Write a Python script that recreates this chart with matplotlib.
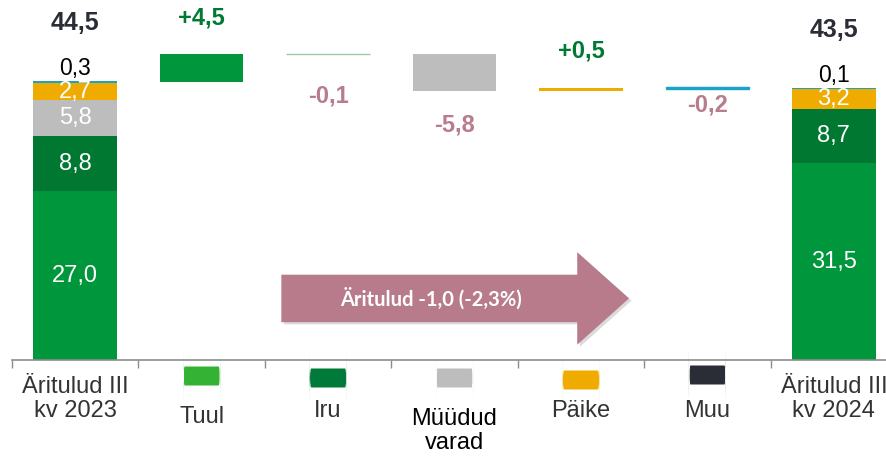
import matplotlib
matplotlib.use("Agg")
import matplotlib.pyplot as plt
import matplotlib.transforms as mtransforms
from matplotlib.patches import FancyArrow, FancyBboxPatch

plt.rcParams['font.family'] = ['Liberation Sans', 'DejaVu Sans']

# data
categories = ['Äritulud III\nkv 2023', 'Tuul', 'Iru', 'Müüdud\nvarad', 'Päike', 'Muu', 'Äritulud III\nkv 2024']
segments = ['Tuul', 'Iru', 'Müüdud varad', 'Päike', 'Muu']
start_values = [27.0, 8.8, 5.8, 2.7, 0.3]
end_values = [31.5, 8.7, 0.0, 3.2, 0.1]
changes = [4.5, -0.1, -5.8, 0.5, -0.2]
start_total = 44.5
end_total = 43.5
arrow_text = 'Äritulud -1,0 (-2,3%)'

seg_colors = ['#00963c', '#007832', '#bdbdbd', '#f0ab00', '#1aa3c8']
change_colors = ['#00963c', '#9fcca8', '#bdbdbd', '#f0ab00', '#1aa3c8']
legend_colors = ['#34b233', '#007a38', '#bdbdbd', '#f0ab00', '#2b2d36']
seg_label_colors = ['white', 'white', 'white', 'white', 'black']

fig = plt.figure(figsize=(8.87, 4.62), dpi=100)
ax = fig.add_axes([12 / 887, 102 / 462, 875 / 887, 360 / 462])
ax.set_xlim(-0.5, 6.42)
ax.set_ylim(0, 57.6)

w = 0.66

def fmt(v):
    return f'{v:.1f}'.replace('.', ',')

def fmt_sign(v):
    return ('+' if v > 0 else '-') + fmt(abs(v))

# stacked totals
for xpos, vals, total in [(0, start_values, start_total), (6, end_values, end_total)]:
    bottom = 0
    for i, v in enumerate(vals):
        if v <= 0:
            continue
        ax.bar(xpos, v, w, bottom=bottom, color=seg_colors[i], linewidth=0)
        if i < 4:
            ax.text(xpos, bottom + v / 2, fmt(v), ha='center', va='center',
                    color=seg_label_colors[i], fontsize=17)
        else:
            ax.annotate(fmt(v), (xpos, bottom + v), xytext=(0, 1), textcoords='offset points',
                        ha='center', va='bottom', fontsize=16.5, color='black')
        bottom += v
    ax.annotate(fmt(total), (xpos, bottom), xytext=(0, 42), textcoords='offset points',
                ha='center', va='center', fontsize=18, fontweight='bold', color='#2b2d36')

# floating changes
label_off = [26, 30, 25, 26, 12]
level = start_total
for i, c in enumerate(changes):
    xpos = i + 1
    lo = level + min(c, 0)
    ax.bar(xpos, abs(c), w, bottom=lo, color=change_colors[i],
           edgecolor=change_colors[i], linewidth=1.0 if abs(c) < 0.3 else 0)
    if c > 0:
        ax.annotate(fmt_sign(c), (xpos, lo + abs(c)), xytext=(0, label_off[i]),
                    textcoords='offset points', ha='center', va='center',
                    fontsize=17, fontweight='bold', color='#007a33')
    else:
        ax.annotate(fmt_sign(c), (xpos, lo), xytext=(0, -label_off[i]),
                    textcoords='offset points', ha='center', va='center',
                    fontsize=17, fontweight='bold', color='#b87c8c')
    level += c

# arrow
shadow = FancyArrow(1.65, 9.5, 2.75, 0, width=7.6, head_width=14.8, head_length=0.41,
                    length_includes_head=True, color='#999999', alpha=0.35, linewidth=0)
ax.add_patch(shadow)
arr = FancyArrow(1.63, 9.85, 2.75, 0, width=7.6, head_width=14.8, head_length=0.41,
                 length_includes_head=True, color='#b77b8b', linewidth=0)
ax.add_patch(arr)
ax.text(2.81, 9.85, arrow_text, ha='center', va='center', color='white',
        fontsize=14.5, fontweight='bold', family=['Lato', 'DejaVu Sans'])

# axis
for s in ['top', 'right', 'left']:
    ax.spines[s].set_visible(False)
ax.spines['bottom'].set_color('#8c8c8c')
ax.spines['bottom'].set_linewidth(1.2)
ax.set_yticks([])
ax.set_xticks([k - 0.5 for k in range(7)])
ax.set_xticklabels([])
ax.tick_params(axis='x', length=6, width=1, color='#8c8c8c', direction='out')

trans = mtransforms.blended_transform_factory(ax.transData, ax.transAxes)

def yax(ypix):
    return (360 - ypix) / 360

label_y = [376, 406, 400, 408, 400, 400, 376]
for k, lab in enumerate(categories):
    col = 'black' if k == 3 else '#333333'
    ax.text(k, yax(label_y[k]), lab, transform=trans, ha='center', va='top',
            fontsize=17, color=col, linespacing=1.12, clip_on=False)

patch_y = [376, 378, 378, 380, 375]
for i, col in enumerate(legend_colors):
    xc = i + 1
    pw, ph = 37 / 126.3, 19 / 360
    p = FancyBboxPatch((xc - pw / 2, yax(patch_y[i]) - ph / 2), pw, ph,
                       boxstyle='round,pad=0,rounding_size=0.012', transform=trans,
                       facecolor=col, edgecolor='none', clip_on=False,
                       mutation_aspect=8)
    ax.add_patch(p)

fig.savefig('out.png', dpi=100)
